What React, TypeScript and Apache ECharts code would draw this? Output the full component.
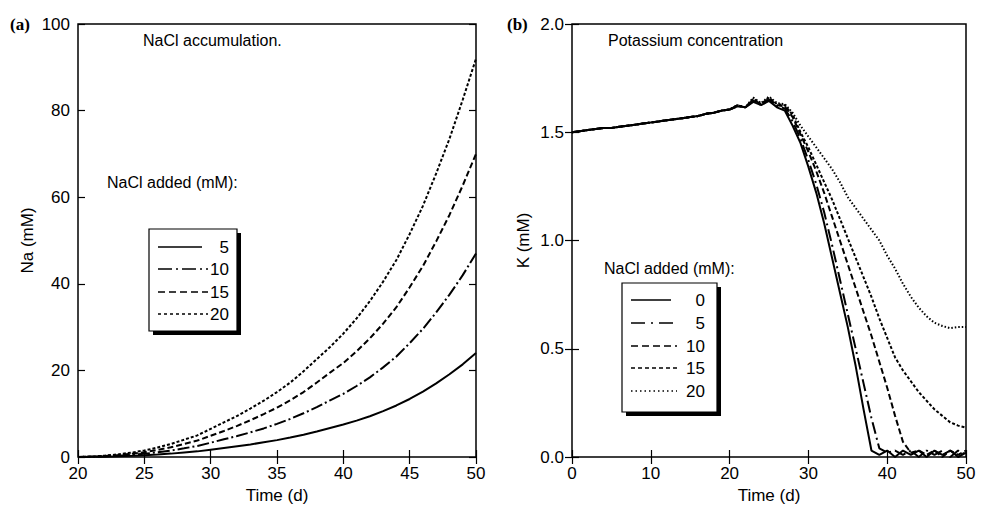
import React, { useEffect, useRef } from "react";
import * as echarts from "echarts";

// ---------- Panel (a): NaCl accumulation ----------
const TIME_A = [20, 21, 22, 23, 24, 25, 26, 27, 28, 29, 30, 31, 32, 33, 34, 35, 36, 37, 38, 39, 40, 41, 42, 43, 44, 45, 46, 47, 48, 49, 50];
const NA_5 = [0, 0.03, 0.08, 0.15, 0.26, 0.4, 0.57, 0.78, 1.04, 1.3, 1.7, 2.1, 2.5, 2.9, 3.4, 3.9, 4.5, 5.15, 5.9, 6.7, 7.5, 8.4, 9.4, 10.6, 11.9, 13.4, 15.1, 17.0, 19.1, 21.4, 24];
const NA_10 = [0, 0.05, 0.15, 0.3, 0.5, 0.75, 1.1, 1.5, 2.0, 2.55, 3.3, 4.1, 4.85, 5.7, 6.6, 7.65, 8.8, 10.1, 11.5, 13.1, 14.6, 16.4, 18.4, 20.7, 23.2, 26.3, 29.6, 33.4, 37.5, 42.0, 47];
const NA_15 = [0, 0.1, 0.2, 0.45, 0.75, 1.1, 1.65, 2.25, 3.0, 3.8, 4.9, 6.0, 7.2, 8.5, 9.9, 11.4, 13.1, 15.0, 17.2, 19.5, 21.7, 24.4, 27.4, 30.8, 34.6, 39.2, 44.1, 49.8, 55.9, 62.7, 70];
const NA_20 = [0, 0.1, 0.3, 0.6, 1.0, 1.5, 2.2, 3.0, 4.0, 5.0, 6.5, 8.0, 9.5, 11.2, 13.0, 15.0, 17.2, 19.8, 22.6, 25.4, 28.5, 32.0, 36.0, 40.5, 45.5, 51.5, 58.0, 65.5, 73.5, 82.5, 92];
const NA_LEVELS = ["5", "10", "15", "20"];
const TICKS_A_X = [20, 25, 30, 35, 40, 45, 50];
const TICKS_A_Y = [0, 20, 40, 60, 80, 100];

// ---------- Panel (b): Potassium concentration ----------
const TIME_B = [0, 1, 2, 3, 4, 5, 6, 7, 8, 9, 10, 11, 12, 13, 14, 15, 16, 17, 18, 19, 20, 21, 22, 23, 24, 25, 26, 27, 28, 29, 30, 31, 32, 33, 34, 35, 36, 37, 38, 39, 40, 41, 42, 43, 44, 45, 46, 47, 48, 49, 50];
const K_0 = [1.5, 1.505, 1.51, 1.515, 1.52, 1.52, 1.525, 1.53, 1.535, 1.54, 1.545, 1.55, 1.555, 1.56, 1.565, 1.57, 1.575, 1.585, 1.59, 1.6, 1.605, 1.62, 1.615, 1.64, 1.625, 1.645, 1.615, 1.6, 1.53, 1.45, 1.34, 1.22, 1.08, 0.92, 0.76, 0.6, 0.42, 0.22, 0.03, 0.01, 0.03, 0.0, 0.03, 0.01, 0.03, 0.0, 0.03, 0.01, 0.03, 0.0, 0.02];
const K_5 = [1.5, 1.505, 1.51, 1.515, 1.52, 1.52, 1.525, 1.53, 1.535, 1.54, 1.545, 1.55, 1.555, 1.56, 1.565, 1.57, 1.575, 1.585, 1.59, 1.6, 1.605, 1.62, 1.615, 1.645, 1.625, 1.65, 1.62, 1.61, 1.55, 1.47, 1.37, 1.26, 1.13, 0.98, 0.82, 0.66, 0.5, 0.34, 0.18, 0.04, 0.02, 0.03, 0.01, 0.03, 0.0, 0.03, 0.01, 0.03, 0.0, 0.03, 0.01];
const K_10 = [1.5, 1.505, 1.51, 1.515, 1.52, 1.52, 1.525, 1.53, 1.535, 1.54, 1.545, 1.55, 1.555, 1.56, 1.565, 1.57, 1.575, 1.585, 1.59, 1.6, 1.605, 1.625, 1.615, 1.65, 1.63, 1.655, 1.625, 1.62, 1.57, 1.49, 1.41, 1.32, 1.22, 1.11, 1.0, 0.89, 0.78, 0.67, 0.56, 0.44, 0.32, 0.19, 0.07, 0.02, 0.03, 0.01, 0.03, 0.0, 0.03, 0.01, 0.03];
const K_15 = [1.5, 1.505, 1.51, 1.515, 1.52, 1.52, 1.525, 1.53, 1.535, 1.54, 1.545, 1.55, 1.555, 1.56, 1.565, 1.57, 1.575, 1.585, 1.59, 1.6, 1.605, 1.625, 1.615, 1.655, 1.63, 1.66, 1.63, 1.625, 1.58, 1.5, 1.43, 1.35, 1.27, 1.19, 1.1, 1.01, 0.92, 0.83, 0.74, 0.64, 0.55, 0.46, 0.4, 0.35, 0.3, 0.26, 0.22, 0.19, 0.16, 0.145, 0.135];
const K_20 = [1.5, 1.505, 1.51, 1.515, 1.52, 1.52, 1.525, 1.53, 1.535, 1.54, 1.545, 1.55, 1.555, 1.56, 1.565, 1.57, 1.575, 1.585, 1.59, 1.6, 1.605, 1.625, 1.615, 1.66, 1.635, 1.665, 1.635, 1.63, 1.59, 1.53, 1.48, 1.43, 1.38, 1.33, 1.27, 1.2, 1.15, 1.1, 1.05, 1.0, 0.93, 0.87, 0.8, 0.74, 0.69, 0.65, 0.62, 0.605, 0.595, 0.6, 0.6];
const K_LEVELS = ["0", "5", "10", "15", "20"];
const TICKS_B_X = [0, 10, 20, 30, 40, 50];
const TICKS_B_Y = [0, 0.5, 1.0, 1.5, 2.0];

const FONT = "Liberation Sans, Arial, Helvetica, sans-serif";

const DASH_A = ["solid", [12, 3, 2, 3], [6, 3], [3, 2]];
const DASH_B = ["solid", [12, 4, 2, 4], [6, 3], [3, 2], [1.5, 2]];
const LEG_DASH_A = ["solid", [14, 4, 2, 4], [7, 4], [3, 3]];
const LEG_DASH_B = ["solid", [14, 6, 2, 6], [7, 4], [4, 3], [1.5, 3]];

export default function App() {
  const ref = useRef<HTMLDivElement>(null);

  useEffect(() => {
    if (!ref.current) return;
    const chart = echarts.init(ref.current, null, { renderer: "svg" });

    const axisBase = {
      axisLine: { show: false },
      splitLine: { show: false },
      axisTick: { inside: true, length: 7, lineStyle: { color: "#000", width: 1.2 } },
      axisLabel: { color: "#000", fontSize: 17, fontFamily: FONT, margin: 8 },
    };
    const mirror = {
      axisLine: { show: false },
      splitLine: { show: false },
      axisTick: { inside: true, length: 7, lineStyle: { color: "#000", width: 1.2 } },
      axisLabel: { show: false },
    };
    const nameStyle = { color: "#000", fontSize: 17, fontFamily: FONT };

    const seriesA = [NA_5, NA_10, NA_15, NA_20].map((arr, i) => ({
      name: "a" + NA_LEVELS[i],
      type: "line",
      xAxisIndex: 0,
      yAxisIndex: 0,
      symbol: "none",
      data: TIME_A.map((t, j) => [t, arr[j]]),
      lineStyle: { color: "#000", width: 2, type: DASH_A[i] },
    }));
    const seriesB = [K_0, K_5, K_10, K_15, K_20].map((arr, i) => ({
      name: "b" + K_LEVELS[i],
      type: "line",
      xAxisIndex: 2,
      yAxisIndex: 2,
      symbol: "none",
      data: TIME_B.map((t, j) => [t, arr[j]]),
      lineStyle: { color: "#000", width: 2, type: DASH_B[i] },
    }));

    const legendBox = (x: number, y: number, w: number, h: number) => [
      { type: "rect", shape: { x: x + 4, y: y + 4, width: w, height: h }, style: { fill: "#000" } },
      { type: "rect", shape: { x, y, width: w, height: h }, style: { fill: "#fff", stroke: "#000", lineWidth: 1.2 } },
    ];
    const legendRows = (
      labels: string[], dashes: any[], x1: number, x2: number, tx: number, ys: number[]
    ) => {
      const out: any[] = [];
      labels.forEach((lab, i) => {
        out.push({
          type: "line",
          shape: { x1, y1: ys[i], x2: dashes[i] === "solid" ? x2 - 6 : x2, y2: ys[i] },
          style: { stroke: "#000", lineWidth: 1.5, lineDash: dashes[i] === "solid" ? null : dashes[i] },
        });
        out.push({
          type: "text",
          x: tx,
          y: ys[i],
          style: { text: lab, fill: "#000", font: `17px ${FONT}`, align: "right", verticalAlign: "middle" },
        });
      });
      return out;
    };

    const txt = (x: number, y: number, text: string) => ({
      type: "text",
      x,
      y,
      style: { text, fill: "#000", font: `16px ${FONT}`, verticalAlign: "middle" },
    });

    chart.setOption({
      animation: false,
      backgroundColor: "#fff",
      grid: [
        { left: 78, right: 518, top: 24, bottom: 53, show: true, borderColor: "#000", borderWidth: 1.5, backgroundColor: "transparent" },
        { left: 572, right: 28, top: 24, bottom: 53, show: true, borderColor: "#000", borderWidth: 1.5, backgroundColor: "transparent" },
      ],
      xAxis: [
        { ...axisBase, type: "value", gridIndex: 0, min: TICKS_A_X[0], max: TICKS_A_X[TICKS_A_X.length - 1], interval: 5, position: "bottom",
          name: "Time (d)", nameLocation: "middle", nameGap: 29, nameTextStyle: nameStyle },
        { ...mirror, type: "value", gridIndex: 0, min: TICKS_A_X[0], max: TICKS_A_X[TICKS_A_X.length - 1], interval: 5, position: "top" },
        { ...axisBase, type: "value", gridIndex: 1, min: TICKS_B_X[0], max: TICKS_B_X[TICKS_B_X.length - 1], interval: 10, position: "bottom",
          name: "Time (d)", nameLocation: "middle", nameGap: 29, nameTextStyle: nameStyle },
        { ...mirror, type: "value", gridIndex: 1, min: TICKS_B_X[0], max: TICKS_B_X[TICKS_B_X.length - 1], interval: 10, position: "top" },
      ],
      yAxis: [
        { ...axisBase, type: "value", gridIndex: 0, min: TICKS_A_Y[0], max: TICKS_A_Y[TICKS_A_Y.length - 1], interval: 20, position: "left",
          name: "Na (mM)", nameLocation: "middle", nameGap: 42, nameTextStyle: nameStyle },
        { ...mirror, type: "value", gridIndex: 0, min: TICKS_A_Y[0], max: TICKS_A_Y[TICKS_A_Y.length - 1], interval: 20, position: "right" },
        { ...axisBase, type: "value", gridIndex: 1, min: TICKS_B_Y[0], max: TICKS_B_Y[TICKS_B_Y.length - 1], interval: 0.5, position: "left",
          axisLabel: { ...axisBase.axisLabel, formatter: (v: number) => v.toFixed(1) },
          name: "K (mM)", nameLocation: "middle", nameGap: 40, nameTextStyle: nameStyle },
        { ...mirror, type: "value", gridIndex: 1, min: TICKS_B_Y[0], max: TICKS_B_Y[TICKS_B_Y.length - 1], interval: 0.5, position: "right" },
      ],
      series: [...seriesA, ...seriesB],
      graphic: [
        { type: "text", x: 10, y: 24, style: { text: "(a)", fill: "#000", font: `bold 17px "Liberation Serif", "Times New Roman", serif`, verticalAlign: "middle" } },
        { type: "text", x: 507, y: 24, style: { text: "(b)", fill: "#000", font: `bold 17px "Liberation Serif", "Times New Roman", serif`, verticalAlign: "middle" } },
        txt(143, 40, "NaCl accumulation."),
        txt(107, 182, "NaCl added (mM):"),
        txt(608, 40, "Potassium concentration"),
        txt(604, 268, "NaCl added (mM):"),
        ...legendBox(149, 229, 88, 102),
        ...legendRows(NA_LEVELS, LEG_DASH_A, 158, 208, 229, [247, 269, 292, 314]),
        ...legendBox(622, 283, 95, 129),
        ...legendRows(K_LEVELS, LEG_DASH_B, 631, 677, 705, [300, 323, 346, 368, 391]),
      ],
    });

    return () => chart.dispose();
  }, []);

  return (
    <div
      ref={ref}
      style={{ position: "fixed", left: 0, top: 0, width: 994, height: 510, background: "#fff" }}
    />
  );
}
